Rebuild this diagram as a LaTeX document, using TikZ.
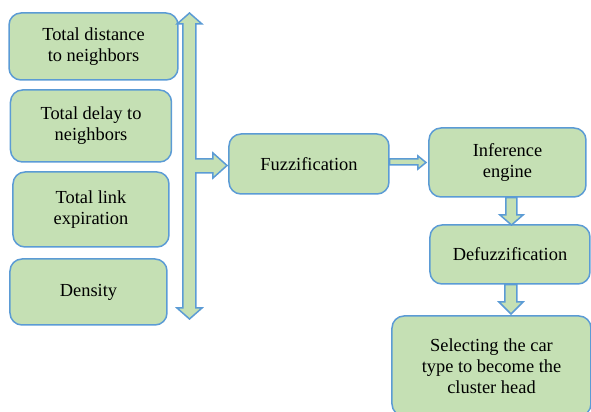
\documentclass[tikz,border=0pt]{standalone}
\usepackage{fontspec}
\setmainfont{Liberation Serif}
\newfontfamily\timesf{Liberation Serif}
\usetikzlibrary{calc}
\definecolor{boxfill}{HTML}{C5E0B4}
\definecolor{boxline}{HTML}{5B9BD5}
\begin{document}
\begin{tikzpicture}[x=0.5pt,y=-0.5pt,
  box/.style={draw=boxline, fill=boxfill, line width=0.75pt, rounded corners=6pt,
    align=center, font=\timesf\fontsize{9.2}{10.5}\selectfont, inner sep=0pt},
  barrow/.style={draw=boxline, fill=boxfill, line width=0.75pt, line join=miter}]
\useasboundingbox (0,0) rectangle (591,412);
\clip (0,0) rectangle (591,412);
% input boxes
\node[box, minimum width=84.5pt, minimum height=33.5pt] (dist) at (93.5,46.5) {Total distance\\to neighbors};
\node[box, minimum width=80.5pt, minimum height=36pt] (delay) at (91,126) {Total delay to\\neighbors};
\node[box, minimum width=78pt, minimum height=37.5pt] (link) at (91,209.5) {Total link\\expiration};
\node[box, minimum width=78.5pt, minimum height=33pt] (dens) at (88.5,292) {Density};
% process boxes
\node[box, minimum width=80pt, minimum height=30pt] (fuzz) at (309,164) {Fuzzification};
\node[box, minimum width=78.5pt, minimum height=34.5pt] (inf) at (507.5,162.5) {Inference\\engine};
\node[box, minimum width=80pt, minimum height=29.5pt] (defuzz) at (510,254.5) {Defuzzification};
\node[box, minimum width=99.5pt, minimum height=50pt] (sel) at (491.5,366) {Selecting the car\\type to become the\\cluster head};
% collecting double arrow with branch to fuzzification
\draw[barrow] (189.5,13) -- (202,24) -- (196,24) -- (196,159) -- (213,159) -- (213,153)
  -- (227,165.5) -- (213,178) -- (213,173) -- (196,173) -- (196,308) -- (202,308)
  -- (189.5,319) -- (177,308) -- (183,308) -- (183,24) -- (177,24) -- cycle;
% fuzzification -> inference
\draw[barrow] (fuzz.east |- 0,159) -- (418,159) -- (418,156) -- (426,162.5) -- (418,169)
  -- (418,165) -- (fuzz.east |- 0,165) -- cycle;
% inference -> defuzzification
\draw[barrow] (506,0 |- inf.south) -- (517,0 |- inf.south) -- (517,215) -- (523,215)
  -- (511.5,225) -- (500,215) -- (506,215) -- cycle;
% defuzzification -> selection
\draw[barrow] (505,0 |- defuzz.south) -- (517,0 |- defuzz.south) -- (517,302) -- (523,302)
  -- (511,314) -- (499,302) -- (505,302) -- cycle;
\end{tikzpicture}
\end{document}
